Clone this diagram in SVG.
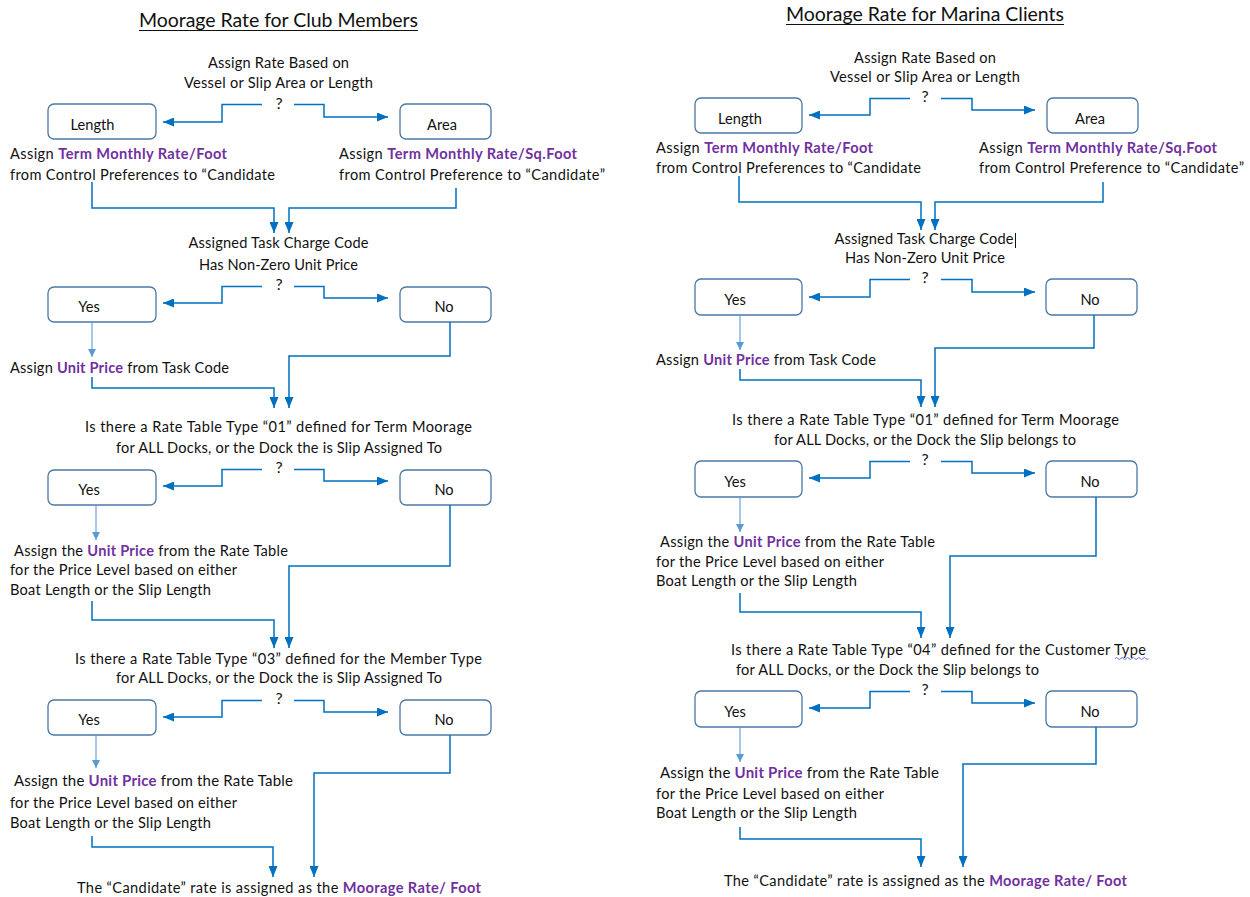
<svg xmlns="http://www.w3.org/2000/svg" width="1250" height="897" viewBox="0 0 1250 897">
  <defs>
    <style>
      .t { font-family: Lato, "Liberation Sans", sans-serif; font-size: 14.6px; fill: #111111; }
      .c { text-anchor: middle; }
      .q { font-size: 16px; }
      .ttl { font-family: Lato, "Liberation Sans", sans-serif; font-size: 19.5px; fill: #111111; text-anchor: middle; }
      .p { fill: #7030A0; font-weight: bold; }
      .box { fill: #ffffff; stroke: #4a78a6; stroke-width: 1.3; }
      .ln { fill: none; stroke: #0070C0; stroke-width: 1.5; marker-end: url(#ah); }
      .lt { fill: none; stroke: #5B9BD5; stroke-width: 1.1; marker-end: url(#ahl); }
      .ul { stroke: #111111; stroke-width: 1; }
    </style>
    <marker id="ah" markerUnits="userSpaceOnUse" markerWidth="11" markerHeight="9" refX="11" refY="4.5" orient="auto">
      <path d="M0,0 L11,4.5 L0,9 z" fill="#0070C0"/>
    </marker>
    <marker id="ahl" markerUnits="userSpaceOnUse" markerWidth="8" markerHeight="8" refX="8" refY="4" orient="auto">
      <path d="M0,0 L8,4 L0,8 z" fill="#5B9BD5"/>
    </marker>
  </defs>
  <rect width="1250" height="897" fill="#ffffff"/>

  <!-- ===================== Club Members flow ===================== -->
  <g id="club-title">
    <text class="ttl" x="278.5" y="27" textLength="279">Moorage Rate for Club Members</text>
    <line class="ul" x1="139" y1="30.5" x2="418" y2="30.5"/>
  </g>

  <g id="club-q1">
    <text class="t c" x="278.5" y="68" textLength="141">Assign Rate Based on</text>
    <text class="t c" x="278.5" y="87.5" textLength="189">Vessel or Slip Area or Length</text>
    <text class="t c q" x="279" y="109">?</text>
  </g>
  <g id="club-length">
    <rect class="box" x="48" y="104" width="108" height="35" rx="6"/>
    <text class="t c" x="92.5" y="130">Length</text>
  </g>
  <g id="club-area">
    <rect class="box" x="400" y="104" width="91" height="35" rx="6"/>
    <text class="t c" x="442" y="130">Area</text>
  </g>
  <g id="club-rate-foot">
    <text class="t" x="10" y="159" textLength="217">Assign <tspan class="p">Term Monthly Rate/Foot</tspan></text>
    <text class="t" x="10" y="180" textLength="265">from Control Preferences to “Candidate</text>
  </g>
  <g id="club-rate-sqft">
    <text class="t" x="339" y="159" textLength="238">Assign <tspan class="p">Term Monthly Rate/Sq.Foot</tspan></text>
    <text class="t" x="339" y="180" textLength="266">from Control Preference to “Candidate”</text>
  </g>

  <g id="club-q2">
    <text class="t c" x="278.5" y="248" textLength="180">Assigned Task Charge Code</text>
    <text class="t c" x="278.5" y="270" textLength="159">Has Non-Zero Unit Price</text>
    <text class="t c q" x="279" y="290">?</text>
  </g>
  <g id="club-yes1">
    <rect class="box" x="48" y="287" width="108" height="35" rx="6"/>
    <text class="t c" x="89" y="312">Yes</text>
  </g>
  <g id="club-no1">
    <rect class="box" x="400" y="287" width="91" height="35" rx="6"/>
    <text class="t c" x="444" y="312">No</text>
  </g>
  <g id="club-task-price">
    <text class="t" x="10" y="373" textLength="219">Assign <tspan class="p">Unit Price</tspan> from Task Code</text>
  </g>

  <g id="club-q3">
    <text class="t c" x="278.5" y="432" textLength="387">Is there a Rate Table Type “01” defined for Term Moorage</text>
    <text class="t c" x="279" y="453" textLength="326">for ALL Docks, or the Dock the is Slip Assigned To</text>
    <text class="t c q" x="279" y="473">?</text>
  </g>
  <g id="club-yes2">
    <rect class="box" x="48" y="470" width="108" height="35" rx="6"/>
    <text class="t c" x="89" y="495">Yes</text>
  </g>
  <g id="club-no2">
    <rect class="box" x="400" y="470" width="91" height="35" rx="6"/>
    <text class="t c" x="444" y="495">No</text>
  </g>
  <g id="club-table01-price">
    <text class="t" x="14" y="556" textLength="274">Assign the <tspan class="p">Unit Price</tspan> from the Rate Table</text>
    <text class="t" x="10" y="575" textLength="227">for the Price Level based on either</text>
    <text class="t" x="10" y="595" textLength="201">Boat Length or the Slip Length</text>
  </g>

  <g id="club-q4">
    <text class="t c" x="278.5" y="664" textLength="407">Is there a Rate Table Type “03” defined for the Member Type</text>
    <text class="t c" x="279" y="683" textLength="326">for ALL Docks, or the Dock the is Slip Assigned To</text>
    <text class="t c q" x="279" y="704">?</text>
  </g>
  <g id="club-yes3">
    <rect class="box" x="48" y="700" width="108" height="35" rx="6"/>
    <text class="t c" x="89" y="725">Yes</text>
  </g>
  <g id="club-no3">
    <rect class="box" x="400" y="700" width="91" height="35" rx="6"/>
    <text class="t c" x="444" y="725">No</text>
  </g>
  <g id="club-table03-price">
    <text class="t" x="14" y="786" textLength="279" style="font-size:15px">Assign the <tspan class="p">Unit Price</tspan> from the Rate Table</text>
    <text class="t" x="10" y="808" textLength="227">for the Price Level based on either</text>
    <text class="t" x="10" y="828" textLength="201">Boat Length or the Slip Length</text>
  </g>
  <g id="club-result">
    <text class="t" x="77" y="893" textLength="404">The “Candidate” rate is assigned as the <tspan class="p">Moorage Rate/ Foot</tspan></text>
  </g>

  <!-- ===================== Marina Clients flow ===================== -->
  <g id="marina-title">
    <text class="ttl" x="925" y="21" textLength="278">Moorage Rate for Marina Clients</text>
    <line class="ul" x1="786" y1="24.5" x2="1064" y2="24.5"/>
  </g>

  <g id="marina-q1">
    <text class="t c" x="925" y="63" textLength="142">Assign Rate Based on</text>
    <text class="t c" x="925" y="82" textLength="190">Vessel or Slip Area or Length</text>
    <text class="t c q" x="925" y="102">?</text>
  </g>
  <g id="marina-length">
    <rect class="box" x="695" y="98" width="107" height="35" rx="6"/>
    <text class="t c" x="740" y="124">Length</text>
  </g>
  <g id="marina-area">
    <rect class="box" x="1047" y="98" width="91" height="35" rx="6"/>
    <text class="t c" x="1090" y="124">Area</text>
  </g>
  <g id="marina-rate-foot">
    <text class="t" x="656" y="153" textLength="217">Assign <tspan class="p">Term Monthly Rate/Foot</tspan></text>
    <text class="t" x="656" y="173" textLength="265">from Control Preferences to “Candidate</text>
  </g>
  <g id="marina-rate-sqft">
    <text class="t" x="979" y="153" textLength="238">Assign <tspan class="p">Term Monthly Rate/Sq.Foot</tspan></text>
    <text class="t" x="979" y="173" textLength="265">from Control Preference to “Candidate”</text>
  </g>

  <g id="marina-q2">
    <text class="t c" x="924" y="244" textLength="179">Assigned Task Charge Code</text>
    <line x1="1015.5" y1="233" x2="1015.5" y2="248" stroke="#111111" stroke-width="1"/>
    <text class="t c" x="925" y="263" textLength="160">Has Non-Zero Unit Price</text>
    <text class="t c q" x="925" y="283">?</text>
  </g>
  <g id="marina-yes1">
    <rect class="box" x="695" y="279" width="107" height="36" rx="6"/>
    <text class="t c" x="735" y="305">Yes</text>
  </g>
  <g id="marina-no1">
    <rect class="box" x="1046" y="279" width="91" height="36" rx="6"/>
    <text class="t c" x="1090" y="305">No</text>
  </g>
  <g id="marina-task-price">
    <text class="t" x="656" y="365" textLength="220">Assign <tspan class="p">Unit Price</tspan> from Task Code</text>
  </g>

  <g id="marina-q3">
    <text class="t c" x="925.5" y="425" textLength="387">Is there a Rate Table Type “01” defined for Term Moorage</text>
    <text class="t c" x="925" y="445" textLength="302">for ALL Docks, or the Dock the Slip belongs to</text>
    <text class="t c q" x="925" y="465">?</text>
  </g>
  <g id="marina-yes2">
    <rect class="box" x="695" y="461" width="107" height="36" rx="6"/>
    <text class="t c" x="735" y="487">Yes</text>
  </g>
  <g id="marina-no2">
    <rect class="box" x="1046" y="461" width="91" height="36" rx="6"/>
    <text class="t c" x="1090" y="487">No</text>
  </g>
  <g id="marina-table01-price">
    <text class="t" x="660" y="547" textLength="275">Assign the <tspan class="p">Unit Price</tspan> from the Rate Table</text>
    <text class="t" x="656" y="567" textLength="228">for the Price Level based on either</text>
    <text class="t" x="656" y="586" textLength="201">Boat Length or the Slip Length</text>
  </g>

  <g id="marina-q4">
    <text class="t" x="731" y="655" textLength="415">Is there a Rate Table Type “04” defined for the Customer Type</text>
    <path d="M1115,658.5 q1.4,-2 2.8,0 t2.8,0 t2.8,0 t2.8,0 t2.8,0 t2.8,0 t2.8,0 t2.8,0 t2.8,0 t2.8,0 t2.8,0 t2.8,0" fill="none" stroke="#5a5ae6" stroke-width="0.9"/>
    <text class="t" x="736" y="675" textLength="303">for ALL Docks, or the Dock the Slip belongs to</text>
    <text class="t c q" x="925" y="695">?</text>
  </g>
  <g id="marina-yes3">
    <rect class="box" x="695" y="691" width="107" height="36" rx="6"/>
    <text class="t c" x="735" y="717">Yes</text>
  </g>
  <g id="marina-no3">
    <rect class="box" x="1046" y="691" width="91" height="36" rx="6"/>
    <text class="t c" x="1090" y="717">No</text>
  </g>
  <g id="marina-table04-price">
    <text class="t" x="660" y="778" textLength="279" style="font-size:15px">Assign the <tspan class="p">Unit Price</tspan> from the Rate Table</text>
    <text class="t" x="656" y="799" textLength="228">for the Price Level based on either</text>
    <text class="t" x="656" y="818" textLength="201">Boat Length or the Slip Length</text>
  </g>
  <g id="marina-result">
    <text class="t" x="724" y="886" textLength="403">The “Candidate” rate is assigned as the <tspan class="p">Moorage Rate/ Foot</tspan></text>
  </g>

  <!-- ===================== Connectors ===================== -->
  <g id="connectors">
    <!-- club members -->
    <path class="ln" d="M262,104.5 H222 V122 H163"/>
    <path class="ln" d="M294,104.5 H324 V117 H388"/>
    <path class="ln" d="M92,182 V208 H274 V233"/>
    <path class="ln" d="M456,188 V208 H289 V233"/>
    <path class="ln" d="M262,286.5 H222 V303 H163"/>
    <path class="ln" d="M294,286.5 H324 V298 H388"/>
    <path class="lt" d="M92,322 V357"/>
    <path class="ln" d="M92,377 V388 H274 V408"/>
    <path class="ln" d="M450,322 V356 H289 V408"/>
    <path class="ln" d="M262,469.5 H222 V486 H163"/>
    <path class="ln" d="M294,469.5 H324 V481 H388"/>
    <path class="lt" d="M96,505 V540"/>
    <path class="ln" d="M92,601 V620 H274 V648"/>
    <path class="ln" d="M450,505 V566 H289 V648"/>
    <path class="ln" d="M262,700.5 H222 V717 H163"/>
    <path class="ln" d="M294,700.5 H324 V712 H388"/>
    <path class="lt" d="M96,735 V768"/>
    <path class="ln" d="M92,836 V847 H273 V877"/>
    <path class="ln" d="M450,735 V773 H314 V877"/>
    <!-- marina clients -->
    <path class="ln" d="M910,98.5 H870 V115 H809"/>
    <path class="ln" d="M941,98.5 H972 V110 H1035"/>
    <path class="ln" d="M739,176 V202 H921 V230"/>
    <path class="ln" d="M1103,182 V202 H935 V230"/>
    <path class="ln" d="M910,279.5 H870 V297 H809"/>
    <path class="ln" d="M941,279.5 H972 V292 H1035"/>
    <path class="lt" d="M740,315 V350"/>
    <path class="ln" d="M740,369 V380 H921 V407"/>
    <path class="ln" d="M1094,315 V348 H935 V407"/>
    <path class="ln" d="M910,461.5 H870 V478 H809"/>
    <path class="ln" d="M941,461.5 H972 V473 H1035"/>
    <path class="lt" d="M740,497 V532"/>
    <path class="ln" d="M740,593 V612 H921 V638"/>
    <path class="ln" d="M1096,497 V556 H950 V638"/>
    <path class="ln" d="M910,691.5 H870 V708 H809"/>
    <path class="ln" d="M941,691.5 H972 V703 H1035"/>
    <path class="lt" d="M740,727 V762"/>
    <path class="ln" d="M740,827 V839 H921 V867"/>
    <path class="ln" d="M1096,727 V764 H963 V867"/>
  </g>
</svg>
